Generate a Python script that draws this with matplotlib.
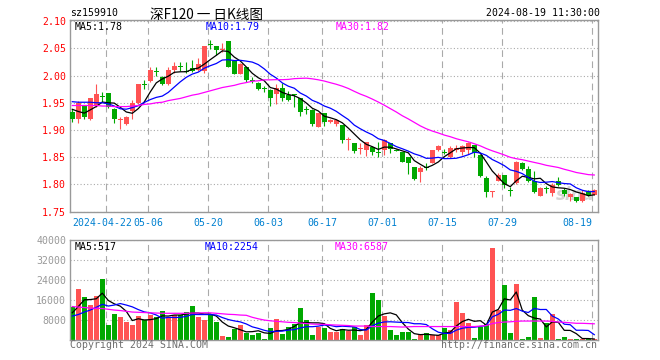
import matplotlib
matplotlib.use("Agg")
import matplotlib.pyplot as plt
import matplotlib.transforms as mtrans
import numpy as np

# ---------------- data ----------------
opens = [1.933, 1.921, 1.944, 1.920, 1.944, 1.962, 1.968, 1.938, 1.919, 1.911,
         1.934, 1.950, 1.983, 1.990, 2.007, 1.997, 1.985, 2.010, 2.016, 2.007,
         2.013, 2.010, 2.008, 2.057, 2.054, 2.046, 2.064, 2.026, 2.003, 2.016,
         1.991, 1.987, 1.975, 1.974, 1.966, 1.978, 1.964, 1.964, 1.959, 1.937,
         1.937, 1.906, 1.931, 1.914, 1.911, 1.910, 1.882, 1.876, 1.865, 1.863,
         1.869, 1.858, 1.863, 1.876, 1.863, 1.859, 1.850, 1.832, 1.822, 1.831,
         1.840, 1.864, 1.859, 1.850, 1.864, 1.859, 1.864, 1.872, 1.854, 1.811,
         1.787, 1.807, 1.818, 1.789, 1.802, 1.840, 1.829, 1.807, 1.779, 1.792,
         1.784, 1.806, 1.790, 1.777, 1.777, 1.769, 1.787, 1.781]
highs = [1.939, 1.954, 1.945, 1.959, 1.985, 1.969, 1.968, 1.941, 1.923, 1.926,
         1.955, 1.985, 1.992, 2.015, 2.016, 1.999, 2.016, 2.024, 2.024, 2.024,
         2.028, 2.033, 2.054, 2.065, 2.054, 2.059, 2.064, 2.027, 2.023, 2.016,
         1.998, 1.988, 1.981, 1.975, 1.985, 1.986, 1.971, 1.966, 1.959, 1.945,
         1.938, 1.932, 1.932, 1.921, 1.921, 1.910, 1.887, 1.877, 1.876, 1.878,
         1.871, 1.878, 1.883, 1.877, 1.866, 1.860, 1.850, 1.832, 1.833, 1.839,
         1.864, 1.873, 1.865, 1.870, 1.873, 1.873, 1.878, 1.873, 1.854, 1.816,
         1.788, 1.821, 1.818, 1.795, 1.844, 1.841, 1.833, 1.825, 1.795, 1.797,
         1.802, 1.813, 1.794, 1.784, 1.777, 1.789, 1.789, 1.791]
lows = [1.914, 1.912, 1.920, 1.918, 1.943, 1.951, 1.941, 1.912, 1.901, 1.910,
        1.921, 1.948, 1.975, 1.988, 2.000, 1.982, 1.983, 2.005, 2.008, 2.005,
        2.007, 2.008, 2.005, 2.049, 2.038, 2.044, 2.015, 2.002, 2.002, 1.988,
        1.986, 1.974, 1.970, 1.944, 1.947, 1.954, 1.954, 1.942, 1.925, 1.929,
        1.907, 1.905, 1.907, 1.912, 1.908, 1.877, 1.863, 1.858, 1.856, 1.852,
        1.854, 1.850, 1.855, 1.857, 1.861, 1.841, 1.819, 1.808, 1.805, 1.827,
        1.839, 1.862, 1.856, 1.848, 1.859, 1.855, 1.856, 1.851, 1.813, 1.777,
        1.777, 1.806, 1.793, 1.778, 1.801, 1.826, 1.805, 1.785, 1.778, 1.785,
        1.778, 1.797, 1.778, 1.769, 1.767, 1.767, 1.778, 1.780]
closes = [1.920, 1.949, 1.923, 1.958, 1.966, 1.961, 1.942, 1.920, 1.9195, 1.923,
          1.949, 1.985, 1.982, 2.011, 2.006, 1.985, 2.010, 2.018, 2.0155, 2.0065,
          2.008, 2.021, 2.054, 2.0565, 2.046, 2.049, 2.016, 2.002, 2.021, 1.991,
          1.9905, 1.975, 1.9745, 1.959, 1.977, 1.959, 1.956, 1.9635, 1.933, 1.9365,
          1.911, 1.931, 1.915, 1.919, 1.919, 1.882, 1.8825, 1.861, 1.8655, 1.878,
          1.860, 1.8575, 1.882, 1.865, 1.862, 1.842, 1.840, 1.810, 1.831, 1.8305,
          1.864, 1.871, 1.8585, 1.867, 1.867, 1.871, 1.876, 1.857, 1.816, 1.787,
          1.7875, 1.818, 1.799, 1.7885, 1.841, 1.829, 1.807, 1.786, 1.794, 1.7915,
          1.799, 1.799, 1.782, 1.782, 1.769, 1.784, 1.780, 1.790]
volumes = [13300, 20700, 17300, 14100, 17700, 24500, 6100, 10500, 9500, 7300,
           6100, 9700, 8100, 10100, 9300, 11700, 9300, 10100, 10100, 11300,
           13700, 9300, 8100, 10100, 7300, 1700, 1300, 4700, 6100, 3100,
           2100, 3100, 500, 4900, 8500, 2500, 5300, 6500, 12900, 8100,
           2100, 5300, 4900, 3400, 3400, 4600, 3800, 5300, 2100, 6100,
           18900, 16100, 9700, 4100, 2100, 3300, 3300, 500, 2100, 2900,
           2100, 2300, 4900, 4100, 15200, 10900, 6900, 900, 5300, 6500,
           36800, 12300, 22100, 2900, 22500, 500, 1300, 17300, 900, 6800,
           10500, 500, 1260, 700, 400, 700, 400, 385]

ma5 = [1.938, 1.934, 1.931, 1.937, 1.9432, 1.9514, 1.950, 1.9494, 1.9417, 1.9331,
       1.9307, 1.9393, 1.9517, 1.970, 1.9866, 1.9938, 1.9988, 2.006, 2.0069, 2.007,
       2.0116, 2.0138, 2.021, 2.0292, 2.0371, 2.0453, 2.0443, 2.0339, 2.0268, 2.0158,
       2.0041, 1.9959, 1.9904, 1.978, 1.9752, 1.9689, 1.9651, 1.9629, 1.9577, 1.9496,
       1.940, 1.935, 1.9253, 1.9225, 1.919, 1.9132, 1.9035, 1.8927, 1.882, 1.8738,
       1.8694, 1.8644, 1.8686, 1.8685, 1.8653, 1.8617, 1.8582, 1.8438, 1.837, 1.8307,
       1.8351, 1.8413, 1.851, 1.8582, 1.8655, 1.8669, 1.8679, 1.8676, 1.8574, 1.8414,
       1.8247, 1.8131, 1.8015, 1.796, 1.8068, 1.8151, 1.8129, 1.8103, 1.8114, 1.8015,
       1.7955, 1.7939, 1.7931, 1.7907, 1.7862, 1.7832, 1.7794, 1.781]
ma10 = [1.952, 1.951, 1.951, 1.951, 1.950, 1.950, 1.948, 1.944, 1.939, 1.9382,
        1.9411, 1.9447, 1.9506, 1.9559, 1.9599, 1.9623, 1.9691, 1.9789, 1.9885, 1.9968,
        2.0027, 2.0063, 2.0135, 2.0181, 2.0221, 2.0285, 2.0291, 2.0275, 2.028, 2.0265,
        2.0247, 2.0201, 2.0122, 2.0024, 1.9955, 1.9865, 1.9805, 1.9767, 1.9679, 1.9624,
        1.9545, 1.9501, 1.9441, 1.9401, 1.9343, 1.9266, 1.9193, 1.909, 1.9023, 1.8964,
        1.8913, 1.884, 1.8807, 1.8753, 1.8696, 1.8656, 1.8613, 1.8562, 1.8528, 1.848,
        1.8484, 1.8498, 1.8474, 1.8476, 1.8481, 1.851, 1.8546, 1.8593, 1.8578, 1.8535,
        1.8458, 1.8405, 1.8346, 1.8267, 1.8241, 1.8199, 1.813, 1.8059, 1.8037, 1.8042,
        1.8053, 1.8034, 1.8017, 1.801, 1.7939, 1.7894, 1.7867, 1.7871]
ma30 = [1.945, 1.945, 1.945, 1.945, 1.945, 1.944, 1.944, 1.943, 1.943, 1.943,
        1.944, 1.945, 1.947, 1.948, 1.950, 1.951, 1.954, 1.956, 1.958, 1.961,
        1.964, 1.966, 1.969, 1.972, 1.975, 1.978, 1.980, 1.982, 1.985, 1.9871,
        1.9895, 1.9904, 1.9921, 1.9921, 1.9925, 1.9924, 1.9929, 1.9943, 1.9948, 1.9952,
        1.994, 1.9922, 1.9899, 1.9869, 1.984, 1.9805, 1.9763, 1.971, 1.966, 1.9618,
        1.9568, 1.9514, 1.9456, 1.9393, 1.9331, 1.9262, 1.9204, 1.914, 1.9076, 1.9023,
        1.8981, 1.8946, 1.8907, 1.8877, 1.884, 1.8811, 1.8784, 1.8748, 1.8709, 1.866,
        1.8618, 1.8581, 1.8542, 1.8499, 1.8473, 1.8455, 1.843, 1.8405, 1.8381, 1.8352,
        1.8332, 1.8312, 1.8279, 1.8251, 1.822, 1.8201, 1.8181, 1.8174]

vma5 = [11000, 13500, 16200, 16300, 16620, 18860, 15940, 14580, 13660, 11580,
        7900, 8620, 8140, 8260, 8660, 9780, 9700, 10100, 10100, 10500,
        10900, 10900, 10500, 10500, 9700, 7300, 5700, 5020, 4220, 3380,
        3460, 3820, 2980, 2740, 3820, 3900, 4340, 5540, 7140, 7060,
        6980, 6980, 6660, 4760, 3820, 4320, 4020, 4100, 3840, 4380,
        7240, 9700, 10580, 10980, 10180, 7060, 4500, 2660, 2260, 2420,
        2180, 1980, 2860, 3260, 5720, 7480, 8400, 7600, 7840, 6100,
        11280, 12360, 16600, 16120, 19320, 12060, 9860, 8900, 8500, 5360,
        7360, 7200, 3992, 3952, 2672, 712, 692, 517]
vma10 = [9700, 10300, 11300, 12100, 13200, 14400, 13700, 14100, 14700, 14100,
         13380, 12280, 11360, 10960, 10120, 8840, 9160, 9120, 9180, 9580,
         10340, 10300, 10300, 10300, 10100, 9100, 8300, 7760, 7360, 6540,
         5380, 4760, 4000, 3480, 3600, 3680, 4080, 4260, 4940, 5440,
         5440, 5660, 6100, 5950, 5440, 5650, 5500, 5380, 4300, 4100,
         5780, 6860, 7340, 7410, 7280, 7150, 7100, 6620, 6620, 6300,
         4620, 3240, 2760, 2760, 4070, 4830, 5190, 5230, 5550, 5910,
         9380, 10380, 12100, 11980, 12710, 11670, 11110, 12750, 12310, 12340,
         9710, 8530, 6446, 6226, 4016, 4036, 3946, 2254]
vma30 = [13500, 13300, 13100, 12900, 12800, 12700, 12400, 12100, 11900, 11600,
         11300, 11200, 11100, 11000, 10900, 10800, 10800, 10800, 10800, 10800,
         10900, 10900, 11000, 11000, 10800, 10600, 10400, 10300, 10100, 10000,
         9200, 8600, 8100, 7800, 7600, 7400, 7200, 7100, 6900, 6700,
         6500, 6400, 6400, 6200, 6100, 6000, 5900, 5700, 5700, 5700,
         5500, 5500, 5500, 5500, 5400, 5300, 5400, 5500, 5500, 5500,
         5500, 5500, 5500, 5500, 5500, 5500, 5500, 5500, 5700, 5900,
         6700, 7100, 7300, 7400, 7600, 7700, 7700, 7700, 7700, 7700,
         7600, 7300, 7200, 7000, 6800, 6800, 6700, 6600]

tick_pos = [6, 13, 23, 33, 42, 52, 62, 72, 87]
tick_labels = ["2024-04-22", "05-06", "05-20", "06-03", "06-17",
               "07-01", "07-15", "07-29", "08-19"]
price_ticks = [1.75, 1.80, 1.85, 1.90, 1.95, 2.00, 2.05, 2.10]
vol_ticks = [8000, 16000, 24000, 32000, 40000]

for arr in (opens, highs, lows, closes, volumes, ma5, ma10, ma30, vma5, vma10, vma30):
    assert len(arr) == 88, len(arr)

# ---------------- style ----------------
RED = "#ff5353"
GREEN = "#00a800"
GRID = "#aaaaaa"
SPINE = "#999999"
MONO = "DejaVu Sans Mono"
FS = 7.1
W, H = 660, 360

o = np.array(opens); c = np.array(closes)
hi = np.array(highs); lo = np.array(lows); v = np.array(volumes)
x = np.arange(len(c))
up = c >= o
cols = np.where(up, RED, GREEN)

fig = plt.figure(figsize=(W / 100, H / 100), dpi=100)
fig.patch.set_facecolor("white")

def frac_rect(l, t, r, b):
    return [l / W, 1 - b / H, (r - l) / W, (b - t) / H]

ax1 = fig.add_axes(frac_rect(70.3, 20.0, 597.7, 211.7))
ax2 = fig.add_axes(frac_rect(70.3, 240.3, 597.7, 340.3))

xoff = 1.0 / 3.0
for ax in (ax1, ax2):
    ax.set_xlim(-xoff, 87.57)
    for s in ax.spines.values():
        s.set_color(SPINE)
        s.set_linewidth(1.0)
    ax.set_xticks([p - xoff for p in tick_pos])
    ax.xaxis.grid(True, color=GRID, linestyle=(0, (6, 4)), linewidth=0.8)
    ax.yaxis.grid(True, color=GRID, linestyle=(0, (1, 2)), linewidth=0.8)
    ax.set_axisbelow(True)
    ax.tick_params(length=0)

# ---- price panel ----
ax1.set_ylim(1.75, 2.102)
ax1.set_yticks(price_ticks)
ax1.set_yticklabels(["%.2f" % t for t in price_ticks], color="#ff0000",
                    family=MONO, fontsize=FS)
ax1.tick_params(axis="y", pad=3.0)
ax1.set_xticklabels(tick_labels, color="#0080d0", family=MONO, fontsize=FS)
ax1.tick_params(axis="x", pad=4.5)
xl = ax1.get_xticklabels()
xl[-1].set_ha("right")
xl[0].set_transform(xl[0].get_transform() +
                    mtrans.ScaledTranslation(-3.5 / 100, 0, fig.dpi_scale_trans))

ax1.text(0.995, 0.04, "sina", transform=ax1.transAxes, ha="right", va="bottom",
         fontsize=12, style="italic", weight="bold", color="#d4d4d4", zorder=0.5)

ax1.vlines(x, lo, hi, colors=cols, linewidth=0.8, zorder=2)
body_h = np.maximum(np.abs(c - o), 0.0019)
body_b = np.minimum(o, c)
ax1.bar(x, body_h, bottom=body_b, width=0.83, color=cols, linewidth=0, zorder=3)

ax1.plot(x, ma5, color="black", linewidth=0.9, zorder=4)
ax1.plot(x, ma10, color="#0000ff", linewidth=0.9, zorder=4)
ax1.plot(x, ma30, color="#ff00ff", linewidth=0.9, zorder=4)

# ---- volume panel ----
ax2.set_ylim(0, 40000)
ax2.set_yticks(vol_ticks)
ax2.set_yticklabels([str(t) for t in vol_ticks], color="#999999",
                    family=MONO, fontsize=FS)
ax2.tick_params(axis="y", pad=3.0)
ax2.set_xticklabels([])
ax2.bar(x, v, width=0.83, color=cols, linewidth=0, zorder=2)
ax2.plot(x, vma5, color="black", linewidth=0.9, zorder=4)
ax2.plot(x, vma10, color="#0000ff", linewidth=0.9, zorder=4)
ax2.plot(x, vma30, color="#ff00ff", linewidth=0.9, zorder=4)

# ---- texts ----
def ftext(px, py, s, **kw):
    kw.setdefault("family", MONO)
    kw.setdefault("fontsize", FS)
    kw.setdefault("va", "center")
    fig.text(px / W, 1 - py / H, s, **kw)

ftext(70, 13.5, "sz159910", ha="left", color="black")
ftext(207, 14.5, "深F120 一 日K线图", ha="center", color="black",
      family=["Noto Sans CJK SC", "DejaVu Sans"], fontsize=9.8)
ftext(600, 13.5, "2024-08-19 11:30:00", ha="right", color="black")

ftext(75, 27, "MA5:1.78", ha="left", color="black")
ftext(206, 27, "MA10:1.79", ha="left", color="#0000ff")
ftext(336, 27, "MA30:1.82", ha="left", color="#ff00ff")

ftext(75, 247, "MA5:517", ha="left", color="black")
ftext(205, 247, "MA10:2254", ha="left", color="#0000ff")
ftext(335, 247, "MA30:6587", ha="left", color="#ff00ff")

ftext(70, 345.5, "Copyright 2024 SINA.COM", ha="left", color="#6e6e6e")
ftext(597, 345.5, "http://finance.sina.com.cn", ha="right", color="#6e6e6e")

fig.savefig("out.png", dpi=100, facecolor="white")
